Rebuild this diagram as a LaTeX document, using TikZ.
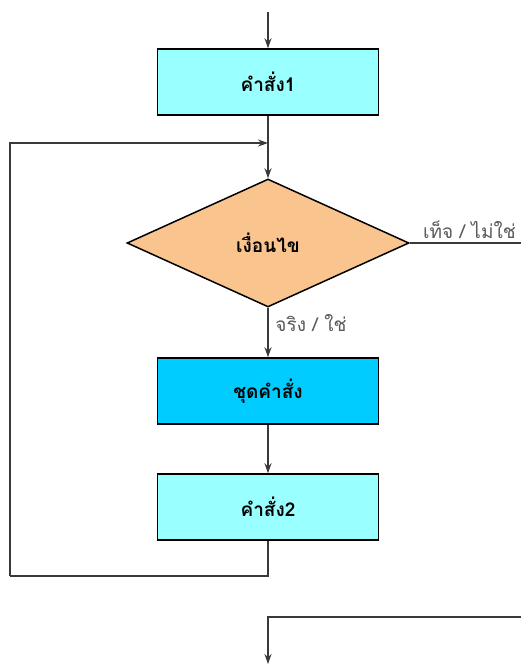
\documentclass[tikz,border=0pt]{standalone}
\usepackage{fontspec}
\usepackage{xcolor}
\usepackage{tikz}
\usetikzlibrary{shapes.geometric,arrows.meta}
\newfontfamily\thaifont[Script=Thai]{Loma}
\definecolor{line}{HTML}{3A3838}
\definecolor{cmdfill}{HTML}{99FFFF}
\definecolor{bodyfill}{HTML}{00CCFF}
\definecolor{condfill}{HTML}{FAC48F}
\definecolor{labgray}{HTML}{5A5A5A}
\tikzset{
  flow/.style={draw=line, line width=2.2pt, -{Stealth[length=10pt,width=7pt]}},
  wire/.style={draw=line, line width=2.2pt},
  cmdbox/.style={draw=black, line width=1.5pt, fill=cmdfill, minimum width=221pt, minimum height=66pt, inner sep=0pt, font=\thaifont\bfseries\fontsize{19}{22}\selectfont},
  bodybox/.style={cmdbox, fill=bodyfill},
  cond/.style={diamond, draw=black, line width=1.5pt, fill=condfill, minimum width=282pt, minimum height=128pt, inner sep=0pt, font=\thaifont\bfseries\fontsize{19}{22}\selectfont},
  labg/.style={text=labgray, font=\thaifont\fontsize{19}{22}\selectfont}
}
\begin{document}
\begin{tikzpicture}[x=1pt,y=-1pt]
  \useasboundingbox (0,0) rectangle (521,664);

  \coordinate (start) at (268,12);
  \node[cmdbox] (cmd1) at (268,82) {คำสั่ง1};
  \coordinate (join) at (268,143);
  \node[cond] (test) at (268,243) {เงื่อนไข};
  \node[bodybox] (body) at (268,391) {ชุดคำสั่ง};
  \node[cmdbox] (cmd2) at (268,507) {คำสั่ง2};
  \coordinate (back) at (10,576);
  \coordinate (exitR) at (521,243);
  \coordinate (entryR) at (521,617);
  \coordinate (finish) at (268,664);

  \draw[flow] (start) -- (cmd1.north);
  \draw[flow] (cmd1.south) -- (test.north);
  \draw[flow] (test.south) -- node[labg, right, xshift=3pt, yshift=9pt] {จริง / ใช่} (body.north);
  \draw[flow] (body.south) -- (cmd2.north);
  \draw[wire] (cmd2.south) |- (back);
  \draw[flow] (back) |- (join);
  \draw[wire] (test.east) -- node[labg, above, xshift=4pt, yshift=0pt] {เท็จ / ไม่ใช่} (exitR);
  \draw[flow] (entryR) -| (finish);
\end{tikzpicture}
\end{document}
